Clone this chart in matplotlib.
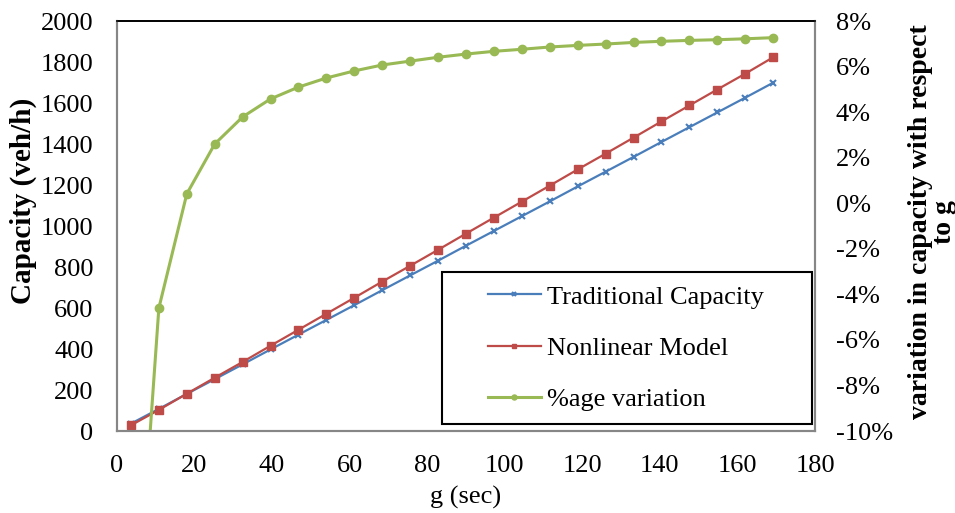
import matplotlib.pyplot as plt
import matplotlib.ticker as mticker
from matplotlib.patches import Rectangle

plt.rcParams['font.family'] = ['Liberation Serif', 'DejaVu Serif']

# green time (sec)
g = [3.6, 10.8, 18, 25.2, 32.4, 39.6, 46.8, 54, 61.2, 68.4, 75.6, 82.8,
     90, 97.2, 104.4, 111.6, 118.8, 126, 133.2, 140.4, 147.6, 154.8, 162, 169.2]

traditional = [36, 108, 181, 253, 325, 398, 470, 542, 614, 687, 759, 831,
               904, 976, 1048, 1120, 1193, 1265, 1337, 1410, 1482, 1554, 1626, 1699]

nonlinear = [28, 103, 182, 260, 337, 416, 494, 572, 650, 729, 806, 884,
             963, 1041, 1119, 1197, 1276, 1353, 1431, 1510, 1588, 1666, 1743, 1823]

# percentage variation
variation = [-22.0, -4.6, 0.41, 2.60, 3.79, 4.58, 5.10, 5.50, 5.81, 6.07, 6.24, 6.41,
             6.55, 6.67, 6.76, 6.86, 6.93, 6.99, 7.06, 7.11, 7.15, 7.18, 7.22, 7.27]

c_blue = '#4A7EBB'
c_red = '#BE4B48'
c_green = '#98B954'

fig = plt.figure(figsize=(9.55, 5.13), dpi=100)
ax = fig.add_axes([0.1225, 0.1598, 0.7309, 0.7992])
ax2 = ax.twinx()

l1, = ax.plot(g, traditional, color=c_blue, lw=1.6, marker='x', ms=5, mew=1.5,
              label='Traditional Capacity')
l2, = ax.plot(g, nonlinear, color=c_red, lw=1.6, marker='s', ms=6,
              label='Nonlinear Model')
l3, = ax2.plot(g, variation, color=c_green, lw=2.2, marker='o', ms=6,
               label='%age variation')

ax.set_xlim(0, 180)
ax.set_ylim(0, 2000)
ax.set_xticks(range(0, 181, 20))
ax.set_yticks(range(0, 2001, 200))
ax2.set_ylim(-10, 8)
ax2.set_yticks(range(-10, 9, 2))
ax2.yaxis.set_major_formatter(mticker.FuncFormatter(lambda v, p: '%d%%' % v))

for a in (ax, ax2):
    a.tick_params(length=0, labelsize=19)
    for s in ('left', 'bottom', 'right'):
        a.spines[s].set_color('#868686')
        a.spines[s].set_linewidth(1.5)
    a.spines['top'].set_color('black')
    a.spines['top'].set_linewidth(1.2)
ax.tick_params(axis='y', pad=17)
ax.tick_params(axis='x', pad=17)
ax2.tick_params(axis='y', pad=15)

ax.set_xlabel('g (sec)', fontsize=19)
ax.xaxis.set_label_coords(0.5, -0.135)
ax.set_ylabel('Capacity (veh/h)', fontsize=21, fontweight='bold')
ax.yaxis.set_label_coords(-0.115, 0.561)
ax2.set_ylabel('variation in capacity with respect\nto g', fontsize=20,
               fontweight='bold', linespacing=0.95)
ax2.yaxis.set_label_coords(1.133, 0.51)

# legend: box drawn separately so the entries sit inset from its edge
ax2.add_patch(Rectangle((0.4656, 0.017), 0.530, 0.371, transform=ax2.transAxes,
                        fill=True, facecolor='white', edgecolor='black',
                        lw=1.5, zorder=5))
leg = ax2.legend(handles=[l1, l2, l3], loc='center left',
                 bbox_to_anchor=(0.5315, 0.2024), fontsize=19, frameon=False,
                 handlelength=2.0, handletextpad=0.25, labelspacing=1.05,
                 borderpad=0, markerscale=0.6, borderaxespad=0)
leg.set_zorder(6)

fig.savefig('out.png', dpi=100)
